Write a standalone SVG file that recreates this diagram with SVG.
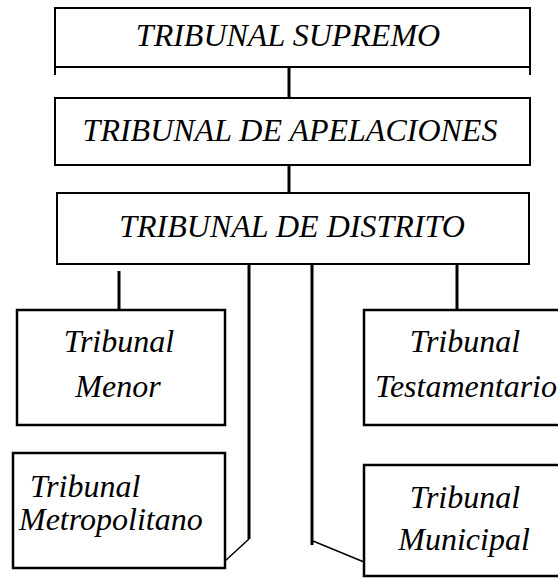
<svg xmlns="http://www.w3.org/2000/svg" width="558" height="578" viewBox="0 0 558 578">
<style>
.box{fill:#fff;stroke:#000;stroke-width:2.5}
.big{fill:#fff;stroke:#000;stroke-width:2}
.t{font-family:"Liberation Serif","Times New Roman",serif;font-style:italic;font-size:32px;fill:#000}
.c{text-anchor:middle}
.ln{stroke:#000;stroke-width:3;fill:none}
.thin{stroke:#000;stroke-width:1.5;fill:none}
</style>
<rect width="558" height="578" fill="#fff"/>
<g id="connectors">
<line class="big" x1="55" y1="67" x2="55" y2="75"/>
<line class="big" x1="530" y1="67" x2="530" y2="75"/>
<line class="ln" x1="289" y1="67" x2="289" y2="98"/>
<line class="ln" x1="289" y1="165" x2="289" y2="193"/>
<line class="ln" x1="119" y1="271" x2="119" y2="310"/>
<line class="ln" x1="457" y1="264" x2="457" y2="310"/>
<line class="ln" x1="249" y1="264" x2="249" y2="539"/>
<line class="ln" x1="312" y1="264" x2="312" y2="545"/>
<line class="thin" x1="249" y1="539" x2="225" y2="561"/>
<line class="thin" x1="313" y1="541" x2="364" y2="562"/>
</g>
<g id="supremo">
<rect class="big" x="55" y="8" width="475" height="59"/>
<text class="t c" x="288" y="46">TRIBUNAL SUPREMO</text>
</g>
<g id="apelaciones">
<rect class="big" x="55" y="98" width="475" height="67"/>
<text class="t c" x="290" y="141">TRIBUNAL DE APELACIONES</text>
</g>
<g id="distrito">
<rect class="big" x="57" y="193" width="472" height="71"/>
<text class="t c" x="292" y="237">TRIBUNAL DE DISTRITO</text>
</g>
<g id="menor">
<rect class="box" x="17" y="310" width="208" height="115"/>
<text class="t c" x="119" y="352">Tribunal</text>
<text class="t c" x="118" y="397">Menor</text>
</g>
<g id="testamentario">
<rect class="box" x="364" y="310" width="200" height="115"/>
<text class="t c" x="465" y="352">Tribunal</text>
<text class="t c" x="466" y="397">Testamentario</text>
</g>
<g id="metropolitano">
<rect class="box" x="13" y="453" width="212" height="115"/>
<text class="t" x="30" y="497">Tribunal</text>
<text class="t" x="19" y="530">Metropolitano</text>
</g>
<g id="municipal">
<rect class="box" x="364" y="465" width="200" height="111"/>
<text class="t c" x="465" y="508">Tribunal</text>
<text class="t c" x="464" y="550">Municipal</text>
</g>
</svg>
